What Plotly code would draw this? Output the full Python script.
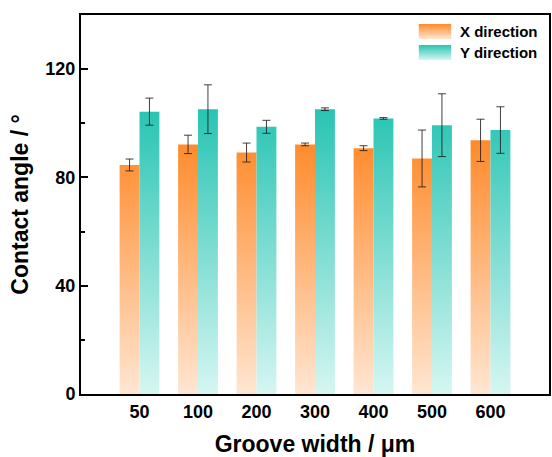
import base64
import plotly.graph_objects as go

categories = ["50", "100", "200", "300", "400", "500", "600"]
x_dir = [84.6, 92.2, 89.2, 92.2, 90.8, 87.0, 93.7]
x_err = [2.2, 3.4, 3.5, 0.5, 0.9, 10.5, 7.8]
y_dir = [104.3, 105.2, 98.7, 105.2, 101.8, 99.3, 97.5]
y_err = [5.0, 9.0, 2.4, 0.5, 0.3, 11.6, 8.6]

BW = 0.34  # bar width in category units
FONT = "Liberation Sans, Arial, sans-serif"

def bar_path(vals, offset):
    xs, ys = [], []
    for i, v in enumerate(vals):
        x0 = i + offset - BW / 2
        x1 = i + offset + BW / 2
        xs += [x0, x0, x1, x1, x0, None]
        ys += [0, v, v, 0, 0, None]
    return xs, ys

def grad_svg(top, bottom):
    svg = ('<svg xmlns="http://www.w3.org/2000/svg" width="33" height="15" '
           'preserveAspectRatio="none">'
           '<defs><linearGradient id="g" x1="0" y1="0" x2="0" y2="1">'
           f'<stop offset="0" stop-color="{top}"/>'
           f'<stop offset="1" stop-color="{bottom}"/>'
           '</linearGradient></defs>'
           '<rect width="33" height="15" fill="url(#g)"/></svg>')
    return "data:image/svg+xml;base64," + base64.b64encode(svg.encode()).decode()

fig = go.Figure()
series = [
    ("X direction", x_dir, x_err, -BW / 2, "#FFE6D2", "#FF8A2A"),
    ("Y direction", y_dir, y_err, BW / 2, "#D6F6F2", "#28C4B3"),
]
for name, vals, errs, off, c0, c1 in series:
    xs, ys = bar_path(vals, off)
    fig.add_trace(go.Scatter(
        x=xs, y=ys, mode="none", fill="toself", name=name,
        fillgradient=dict(type="vertical", colorscale=[[0, c0], [1, c1]],
                          start=0, stop=max(vals)),
        hoverinfo="skip", showlegend=False,
    ))
for name, vals, errs, off, c0, c1 in series:
    fig.add_trace(go.Scatter(
        x=[i + off for i in range(len(vals))], y=vals, mode="markers",
        marker=dict(size=1, color="rgba(0,0,0,0)"), showlegend=False,
        error_y=dict(type="data", array=errs, visible=True, width=4,
                     thickness=1, color="rgba(30,30,30,0.85)"),
    ))

# manual legend with gradient swatches
leg_y = [0.9763, 0.9208]
for (name, vals, errs, off, c0, c1), yy in zip(series, leg_y):
    fig.add_layout_image(dict(
        source=grad_svg(c1, c0), xref="paper", yref="paper",
        x=0.7213, y=yy, sizex=0.0702, sizey=0.0396,
        xanchor="left", yanchor="top", sizing="stretch", layer="above"))
    fig.add_annotation(
        text=name, xref="paper", yref="paper", x=0.8085, y=yy - 0.0198,
        xanchor="left", yanchor="middle", showarrow=False, borderpad=0,
        font=dict(size=15, family=FONT, weight="bold", color="black"))

fig.update_layout(
    width=552, height=457,
    margin=dict(l=81, r=1, t=15, b=63),
    plot_bgcolor="white", paper_bgcolor="white",
    font=dict(family=FONT, color="black"),
    showlegend=False,
    xaxis=dict(range=[-1, 7], tickvals=list(range(len(categories))),
               ticktext=categories, showline=True, linecolor="black",
               linewidth=2, mirror=True, ticks="", showgrid=False,
               zeroline=False,
               tickfont=dict(size=18, family=FONT, weight="bold"),
               title=dict(text="Groove width / μm", standoff=16,
                          font=dict(size=23, family=FONT, weight="bold"))),
    yaxis=dict(range=[0, 140], tickvals=[0, 40, 80, 120], showline=True,
               linecolor="black", linewidth=2, mirror=True,
               ticks="inside", ticklen=7, tickwidth=2, tickcolor="black",
               minor=dict(tickvals=[20, 60, 100], ticks="inside", ticklen=4,
                          tickwidth=2, tickcolor="black"),
               showgrid=False, zeroline=False,
               tickfont=dict(size=18, family=FONT, weight="bold"),
               title=dict(text="Contact angle / °", standoff=10,
                          font=dict(size=23, family=FONT, weight="bold"))),
)

fig.write_html("out.html")
